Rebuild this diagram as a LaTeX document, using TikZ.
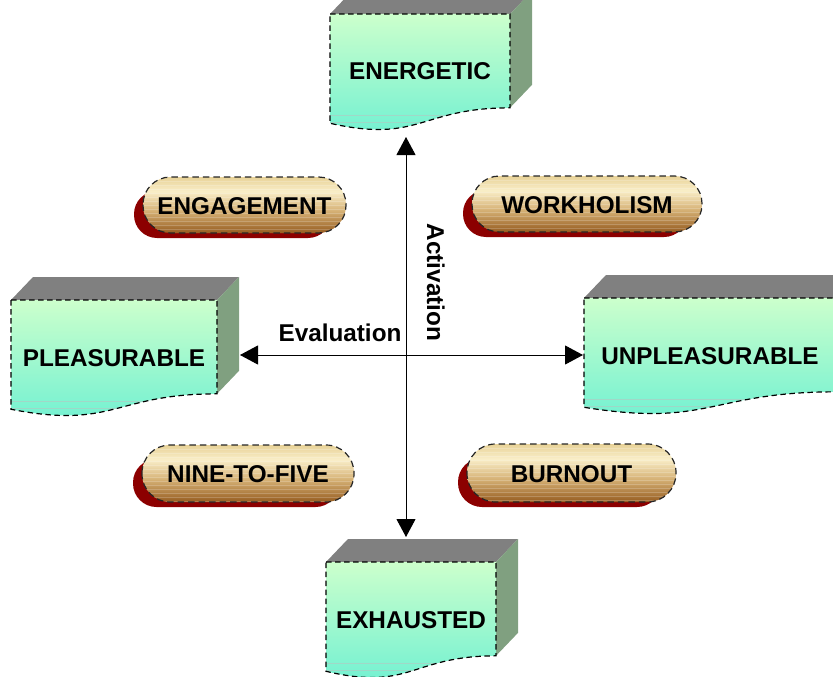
\documentclass[tikz,border=0pt]{standalone}
\usepackage{fontspec}
\setmainfont{Liberation Sans}
\usetikzlibrary{arrows.meta}

% colours
\definecolor{boxtop}{RGB}{204,255,204}
\definecolor{boxbot}{RGB}{108,240,210}
\definecolor{topface}{RGB}{128,128,128}
\definecolor{sideface}{RGB}{128,160,128}
\definecolor{pilltop}{RGB}{232,210,152}
\definecolor{pilllight}{RGB}{249,238,200}
\definecolor{pillmid}{RGB}{214,178,118}
\definecolor{pillbot}{RGB}{150,92,32}
\definecolor{pillshadow}{RGB}{140,0,0}

\pgfdeclareverticalshading{pillshade}{100bp}{%
  color(0bp)=(pillbot); color(25bp)=(pillbot); color(45bp)=(pillmid);
  color(62bp)=(pilllight); color(75bp)=(pilltop); color(100bp)=(pilltop)}

\tikzset{
  lbl/.style={font=\bfseries\fontsize{24.3}{28}\selectfont, inner sep=0pt, text=black},
  frontface/.style={top color=boxtop, bottom color=boxbot},
  edge/.style={draw=black, line width=1.2pt, dash pattern=on 5.5pt off 3.5pt},
  pilledge/.style={draw=black!85, line width=1.2pt, dash pattern=on 6.5pt off 4pt},
  axisline/.style={draw=black, line width=1pt,
    {Triangle[length=18pt,width=19pt]}-{Triangle[length=18pt,width=19pt]}},
}

% document-shaped block with a top and a side face
% #1 name, #2 left, #3 top, #4 width, #5 text
\newcommand\docbox[5]{%
  \pgfmathsetmacro\dbR{#2+#4}%
  \pgfmathsetmacro\dbRB{#3+0.802*117}%
  \pgfmathsetmacro\dbLB{#3+0.934*117}%
  \pgfmathsetmacro\dbMid{#2+#4/2}%
  \pgfmathsetmacro\dbCb{#3+1.1075*117}%
  \fill[topface] (#2,#3) -- (\dbR,#3) -- (\dbR+22,#3-23) -- (#2+22,#3-23) -- cycle;
  \fill[sideface] (\dbR,#3) -- (\dbR+22,#3-23) -- (\dbR+22,\dbRB-23) -- (\dbR,\dbRB) -- cycle;
  \path[frontface] (#2,#3) -- (\dbR,#3) -- (\dbR,\dbRB)
     .. controls (\dbMid,\dbRB) and (\dbMid,\dbCb) .. (#2,\dbLB) -- cycle;
  \begin{scope}
    \clip (#2,#3) -- (\dbR,#3) -- (\dbR,\dbRB)
     .. controls (\dbMid,\dbRB) and (\dbMid,\dbCb) .. (#2,\dbLB) -- cycle;
    \draw[black!25, opacity=.5, line width=.6pt] (#2,#3+101) -- (\dbR,#3+101);
    \draw[black!25, opacity=.5, line width=.6pt] (#2,#3+108) -- (\dbR,#3+108);
  \end{scope}
  \path[edge] (#2,#3) -- (\dbR,#3) -- (\dbR,\dbRB)
     .. controls (\dbMid,\dbRB) and (\dbMid,\dbCb) .. (#2,\dbLB) -- cycle;
  \node[lbl, anchor=base] (#1) at (\dbMid,#3+66) {#5};
}

% striped pill with a dark red drop shadow
% #1 name, #2 centre x, #3 centre y, #4 width, #5 height, #6 text
\newcommand\pillbox[6]{%
  \pgfmathsetmacro\pbL{#2-#4/2}%
  \pgfmathsetmacro\pbT{#3-#5/2}%
  \pgfmathsetmacro\pbR{#5/2-0.5}%
  \pgfmathsetmacro\pbSR{(#5-9)/2-0.5}%
  \fill[pillshadow, rounded corners=\pbSR pt] (\pbL-9,\pbT+14) rectangle ++(#4-6,#5-9);
  \path[shading=pillshade, rounded corners=\pbR pt] (\pbL,\pbT) rectangle ++(#4,#5);
  \begin{scope}
    \clip[rounded corners=\pbR pt] (\pbL,\pbT) rectangle ++(#4,#5);
    \foreach \k in {1,...,14}
      \draw[white, opacity=.2, line width=.8pt] (\pbL,\pbT+4*\k) -- ++(#4,0);
  \end{scope}
  \path[pilledge, rounded corners=\pbR pt] (\pbL,\pbT) rectangle ++(#4,#5);
  \node[lbl, anchor=base] (#1) at (#2,#3+9) {#6};
}

\begin{document}
\begin{tikzpicture}[x=1pt, y=-1pt]
  \useasboundingbox (0,0) rectangle (833,677);
  \clip (0,0) rectangle (833,677);

  % the four states
  \docbox{energetic}{330}{14}{180}{ENERGETIC}
  \docbox{pleasurable}{11}{300}{206}{PLEASURABLE}
  \docbox{unpleasurable}{584}{298}{252}{UNPLEASURABLE}
  \docbox{exhausted}{326}{562}{170}{EXHAUSTED}

  % the four quadrants
  \pillbox{engagement}{244.5}{205}{203}{56}{ENGAGEMENT}
  \pillbox{workholism}{587}{204}{230}{56}{WORKHOLISM}
  \pillbox{ninetofive}{248}{473.5}{212}{57}{NINE-TO-FIVE}
  \pillbox{burnout}{571.5}{473}{209}{58}{BURNOUT}

  % axes
  \coordinate (actTop) at (406,137);
  \coordinate (actBot) at (406,537);
  \coordinate (evalL) at (240,355);
  \coordinate (evalR) at (583,355);
  \draw[axisline] (actTop) -- (actBot);
  \draw[axisline] (evalL) -- (evalR);

  \node[lbl, anchor=base] (evaluation) at (340,341) {Evaluation};
  \node[lbl, anchor=base, rotate=-90] (activation) at (427,282.5) {Activation};
\end{tikzpicture}
\end{document}
